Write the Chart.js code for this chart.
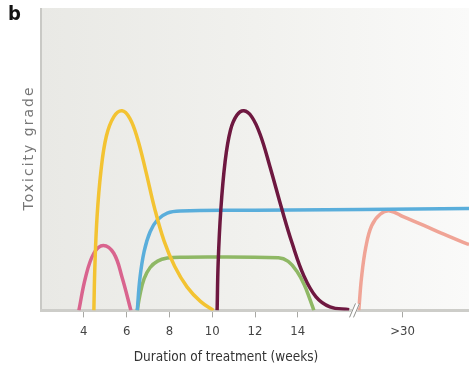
<!DOCTYPE html>
<html>
<head>
<meta charset="utf-8">
<script src="https://cdn.jsdelivr.net/npm/chart.js@4/dist/chart.umd.min.js"></script>
<style>
  html, body { margin: 0; padding: 0; background: #fff; }
  #wrap { width: 469px; height: 370px; position: relative; }
</style>
</head>
<body>
<div id="wrap"><canvas id="toxChart"></canvas></div>
<script>
// x axis: weeks (the part after the break is squeezed, ">30" sits at 18.9)
const tickValues = [4, 6, 8, 10, 12, 14, 18.9];
const tickLabels = ['4', '6', '8', '10', '12', '14', '>30'];
const breakAt = 16.65;

// curves, [week, grade]
const pinkCurve = [[3.77, 0], [4.08, 1.09], [4.47, 1.89], [4.91, 2.15], [5.40, 1.89], [5.79, 1.09], [6.2, 0]];
const yellowCurve = [[4.47, 0], [4.52, 1.5], [4.62, 3.1], [4.80, 4.6], [5.05, 5.75], [5.40, 6.40], [5.79, 6.60], [6.15, 6.35],
  [6.50, 5.70], [6.90, 4.60], [7.30, 3.40], [7.75, 2.30], [8.25, 1.45], [8.83, 0.77], [9.45, 0.30], [10.06, 0]];
const blueCurve = [[6.5, 0], [6.62, 1.05], [6.82, 1.95], [7.10, 2.60], [7.45, 3.00], [7.90, 3.22], [8.50, 3.29], [12, 3.31], [22, 3.37]];
const greenCurve = [[6.5, 0], [6.62, 0.50], [6.82, 1.05], [7.10, 1.42], [7.45, 1.63], [7.90, 1.73], [8.50, 1.76], [13.10, 1.74],
  [13.55, 1.62], [13.95, 1.30], [14.30, 0.85], [14.55, 0.40], [14.75, 0]];
const maroonCurve = [[10.23, 0], [10.28, 1.60], [10.40, 3.30], [10.60, 4.90], [10.85, 5.95], [11.15, 6.45], [11.48, 6.60],
  [11.85, 6.40], [12.25, 5.80], [12.70, 4.75], [13.27, 3.31], [13.74, 2.21], [14.28, 1.15], [14.85, 0.45], [15.50, 0.12], [16.40, 0.02]];
const salmonCurve = [[16.85, 0], [16.98, 1.10], [17.18, 2.10], [17.45, 2.80], [17.85, 3.18], [18.30, 3.29], [18.95, 3.09],
  [19.89, 2.81], [20.82, 2.52], [21.76, 2.24], [22, 2.18]];

const toPoints = arr => arr.map(p => ({ x: p[0], y: p[1] }));

function makeSet(curve, color, order) {
  return {
    data: toPoints(curve),
    borderColor: color,
    borderWidth: 3.5,
    pointRadius: 0,
    fill: false,
    tension: 0.4,
    order: order
  };
}

const narrow = '"Liberation Sans Narrow", "DejaVu Sans Condensed", "DejaVu Sans", sans-serif';

// background, frame, break marks and free text
const decorPlugin = {
  id: 'decor',
  beforeDraw(chart) {
    const { ctx, chartArea: a } = chart;
    ctx.save();
    const g = ctx.createLinearGradient(a.left, 0, a.right, 0);
    g.addColorStop(0, '#e9e9e5');
    g.addColorStop(0.5, '#f1f1ee');
    g.addColorStop(1, '#fafaf9');
    ctx.fillStyle = g;
    ctx.fillRect(a.left, a.top, a.right - a.left, a.bottom - a.top);
    ctx.fillStyle = '#c9c9c5';
    ctx.fillRect(a.left - 1, a.top, 2, a.bottom - a.top);
    ctx.restore();
  },
  afterDraw(chart) {
    const { ctx, chartArea: a } = chart;
    const xs = chart.scales.x;
    ctx.save();
    // break "//"
    const bx = xs.getPixelForValue(breakAt);
    ctx.lineWidth = 5;
    ctx.strokeStyle = '#ffffff';
    ctx.beginPath();
    ctx.moveTo(bx - 3, a.bottom + 7);
    ctx.lineTo(bx + 3, a.bottom - 7);
    ctx.stroke();
    ctx.lineWidth = 1;
    ctx.strokeStyle = '#8f8f8b';
    [-2, 2].forEach(d => {
      ctx.beginPath();
      ctx.moveTo(bx + d - 3, a.bottom + 7);
      ctx.lineTo(bx + d + 3, a.bottom - 7);
      ctx.stroke();
    });
    // panel letter
    ctx.fillStyle = '#111';
    ctx.font = 'bold 20px ' + narrow;
    ctx.fontStretch = 'condensed';
    ctx.textAlign = 'left';
    ctx.textBaseline = 'alphabetic';
    ctx.fillText('b', 8, 20);
    // y title
    ctx.translate(29, 148);
    ctx.rotate(-Math.PI / 2);
    ctx.fillStyle = '#777';
    ctx.fontStretch = 'normal';
    ctx.font = '14px "DejaVu Sans", sans-serif';
    ctx.letterSpacing = '2px';
    ctx.textAlign = 'center';
    ctx.textBaseline = 'middle';
    ctx.fillText('Toxicity grade', 0, 0);
    ctx.restore();
    // x title
    ctx.save();
    ctx.fillStyle = '#333';
    ctx.font = '13.5px ' + narrow;
    ctx.fontStretch = 'condensed';
    ctx.textAlign = 'center';
    ctx.textBaseline = 'middle';
    ctx.fillText('Duration of treatment (weeks)', 226, 357);
    ctx.restore();
  }
};

new Chart(document.getElementById('toxChart'), {
  type: 'line',
  data: {
    datasets: [
      makeSet(maroonCurve, '#6e1840', 1),
      makeSet(yellowCurve, '#f3c332', 2),
      makeSet(blueCurve, '#5aaedb', 3),
      makeSet(greenCurve, '#8fb865', 4),
      makeSet(pinkCurve, '#d9648e', 5),
      makeSet(salmonCurve, '#f0a496', 6)
    ]
  },
  options: {
    responsive: true,
    maintainAspectRatio: false,
    animation: false,
    layout: { padding: { left: 41, top: 8, right: 0, bottom: 25 } },
    plugins: {
      legend: { display: false },
      tooltip: { enabled: false },
      title: { display: false }
    },
    scales: {
      x: {
        type: 'linear',
        min: 2,
        max: 22,
        afterBuildTicks: scale => {
          scale.ticks = tickValues.map(v => ({ value: v }));
        },
        ticks: {
          autoSkip: false,
          maxRotation: 0,
          padding: 6,
          color: '#444',
          font: { family: narrow, size: 13 },
          callback: value => {
            const i = tickValues.indexOf(value);
            return i >= 0 ? tickLabels[i] : '';
          }
        },
        grid: { drawOnChartArea: false, drawTicks: true, tickLength: 7, color: '#a8a8a4' },
        border: { display: true, color: '#cdcdc9', width: 3 }
      },
      y: {
        display: false,
        min: 0,
        max: 10
      }
    }
  },
  plugins: [decorPlugin]
});
</script>
</body>
</html>
